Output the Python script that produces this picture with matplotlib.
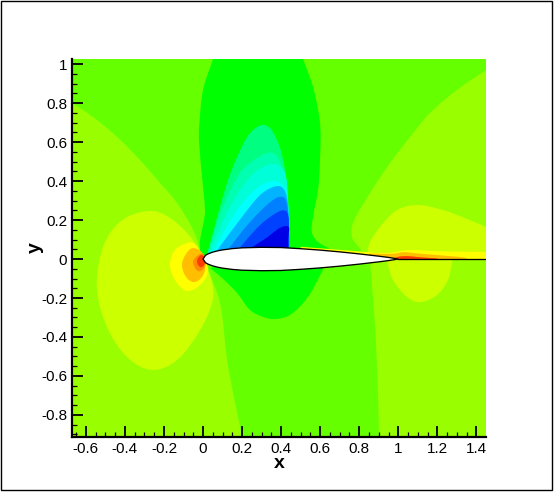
import matplotlib
matplotlib.use('Agg')
import matplotlib.pyplot as plt
import numpy as np
from matplotlib.patches import Rectangle, PathPatch
from matplotlib.path import Path
from matplotlib.ticker import MultipleLocator, FuncFormatter

plt.rcParams['font.family'] = ['Liberation Sans', 'DejaVu Sans']

X_MIN, X_MAX = -0.671, 1.449
Y_MIN, Y_MAX = -0.913, 1.026

# airfoil surface
foil_x = [0, 0.0125, 0.025, 0.05, 0.075, 0.1, 0.15, 0.2, 0.3, 0.4, 0.5, 0.6, 0.7, 0.8, 0.9, 0.95, 1]
foil_y = [0, 0.0189, 0.0261, 0.0355, 0.042, 0.0468, 0.0534, 0.0574, 0.06, 0.0588, 0.0529, 0.0456, 0.0366, 0.0262, 0.0145, 0.0081, 0]

# contour band outlines in x, y units
left_x = [-0.671, -0.563, -0.44, -0.323, -0.22, -0.133, -0.051, 0, 0.026, 0.087, 0.123, 0.154, 0.2, -0.671]
left_y = [0.80, 0.728, 0.626, 0.508, 0.39, 0.287, 0.149, 0.01, -0.056, -0.226, -0.518, -0.687, -0.913, -0.913]
upper_right_x = [1.449, 1.3, 1.162, 1.06, 0.957, 0.855, 0.768, 0.763, 0.789, 0.83, 1.0, 1.449]
upper_right_y = [0.969, 0.867, 0.749, 0.626, 0.492, 0.338, 0.185, 0.113, 0.072, 0.03, 0, 0]
lower_right_x = [0.855, 0.881, 0.896, 0.901, 1.449, 1.449, 0.855]
lower_right_y = [-0.015, -0.349, -0.687, -0.913, -0.913, 0, 0]

green_up_x = [0.051, 0, -0.02, -0.02, -0.005, 0.01, 0.01, 0.3, 0.66, 0.64, 0.589, 0.558, 0.563, 0.589, 0.599, 0.599, 0.563, 0.512]
green_up_y = [1.026, 0.867, 0.677, 0.595, 0.421, 0.251, 0, 0, 0.03, 0.056, 0.087, 0.133, 0.215, 0.354, 0.508, 0.697, 0.882, 1.026]
green_low_x = [0.036, 0.1, 0.174, 0.241, 0.307, 0.369, 0.445, 0.533, 0.614, 0.6, 0.1]
green_low_y = [-0.046, -0.1, -0.174, -0.262, -0.297, -0.308, -0.287, -0.2, -0.056, -0.03, -0.03]

band1_x = [0.02, 0.072, 0.123, 0.174, 0.241, 0.317, 0.379, 0.42, 0.435, 0.435]
band1_y = [0.02, 0.215, 0.39, 0.523, 0.646, 0.687, 0.61, 0.456, 0.267, 0.03]
band2_x = [0.02, 0.102, 0.189, 0.276, 0.358, 0.404, 0.43, 0.44]
band2_y = [0.02, 0.267, 0.441, 0.518, 0.544, 0.472, 0.354, 0.03]
band3_x = [0.026, 0.138, 0.241, 0.328, 0.384, 0.42, 0.435, 0.445]
band3_y = [0.025, 0.267, 0.421, 0.482, 0.482, 0.441, 0.318, 0.03]
band4_x = [0.046, 0.174, 0.276, 0.358, 0.404, 0.43, 0.44, 0.445]
band4_y = [0.03, 0.251, 0.364, 0.4, 0.38, 0.318, 0.2, 0.03]
band5_x = [0.061, 0.199, 0.292, 0.358, 0.404, 0.43, 0.44, 0.445]
band5_y = [0.03, 0.215, 0.328, 0.369, 0.369, 0.313, 0.185, 0.03]
band6_x = [0.113, 0.241, 0.358, 0.41, 0.43, 0.44, 0.44]
band6_y = [0.03, 0.19, 0.303, 0.318, 0.277, 0.174, 0.03]
band7_x = [0.164, 0.292, 0.394, 0.43, 0.44, 0.44]
band7_y = [0.03, 0.174, 0.246, 0.241, 0.149, 0.03]
band8_x = [0.205, 0.32, 0.43, 0.435, 0.435]
band8_y = [0.03, 0.105, 0.169, 0.1, 0.03]

bubble_x = [-0.527, -0.476, -0.389, -0.256, -0.154, -0.051, 0, 0.026, 0.051, 0.046, -0.015, -0.133, -0.261, -0.389, -0.492, -0.543]
bubble_y = [0.01, 0.133, 0.215, 0.246, 0.2, 0.097, 0.005, -0.056, -0.144, -0.226, -0.364, -0.518, -0.569, -0.503, -0.349, -0.159]
nose1_x = [0, -0.051, -0.118, -0.154, -0.169, -0.133, -0.077, -0.005, 0.026]
nose1_y = [0.01, 0.082, 0.067, 0.031, -0.041, -0.123, -0.164, -0.123, -0.056]
nose2_x = [-0.108, -0.087, -0.051, 0, 0.01, -0.015, -0.051, -0.087]
nose2_y = [-0.031, 0.026, 0.056, 0.026, -0.056, -0.103, -0.118, -0.092]
nose3_x = [-0.051, -0.031, 0, 0.015, 0.005, -0.026]
nose3_y = [-0.015, 0.015, 0.026, -0.005, -0.046, -0.062]
nose4_x = [-0.031, -0.01, 0.01, 0.005, -0.015]
nose4_y = [-0.01, 0.02, 0.005, -0.031, -0.041]

wake_up_x = [0.84, 0.855, 0.906, 0.993, 1.096, 1.229, 1.367, 1.449, 1.449, 1.0]
wake_up_y = [0.036, 0.087, 0.164, 0.251, 0.277, 0.251, 0.2, 0.164, 0, 0]
wake_low_x = [0.942, 0.973, 1.045, 1.111, 1.198, 1.254, 1.275, 1.275, 0.942]
wake_low_y = [-0.015, -0.108, -0.195, -0.221, -0.185, -0.108, -0.021, 0, 0]
wake1_x = [0.5, 0.7, 0.85, 0.95, 1.05, 1.2, 1.449, 1.449, 1.0, 0.5]
wake1_y = [0.063, 0.047, 0.035, 0.032, 0.046, 0.04, 0.036, 0, 0, 0]
wake2_x = [0.85, 0.97, 1.03, 1.1, 1.3, 1.35, 1.35, 0.85]
wake2_y = [0.028, 0.027, 0.035, 0.028, 0.012, 0.005, 0, 0]
wake3_x = [0.97, 1.0, 1.05, 1.1, 1.2, 1.2]
wake3_y = [0, 0.012, 0.015, 0.01, 0.003, 0]

BASE = '#66ff00'
LIGHT = '#99ff00'
LIME = '#ccff00'
YELLOW = '#ffff00'
ORANGE = '#ffbe00'
DARK_ORANGE = '#ff8c00'
RED = '#ff3c00'

# x, y, colour, how many leading points form the smooth edge (0 = closed blob)
regions = [
    (left_x, left_y, LIGHT, 13),
    (upper_right_x, upper_right_y, LIGHT, 11),
    (lower_right_x, lower_right_y, LIGHT, 4),
    (green_up_x, green_up_y, '#00ff00', 18),
    (green_low_x, green_low_y, '#00ff00', 9),
    (band1_x, band1_y, '#00ff80', 10),
    (band2_x, band2_y, '#00ffb0', 8),
    (band3_x, band3_y, '#00ffd8', 8),
    (band4_x, band4_y, '#00ffff', 8),
    (band5_x, band5_y, '#00b4ff', 8),
    (band6_x, band6_y, '#0080ff', 7),
    (band7_x, band7_y, '#0040ff', 6),
    (band8_x, band8_y, '#0000e6', 5),
    (bubble_x, bubble_y, LIME, 0),
    (nose1_x, nose1_y, YELLOW, 0),
    (nose2_x, nose2_y, ORANGE, 0),
    (nose3_x, nose3_y, DARK_ORANGE, 0),
    (nose4_x, nose4_y, RED, 0),
    (wake_up_x, wake_up_y, LIME, 8),
    (wake_low_x, wake_low_y, LIME, 7),
    (wake1_x, wake1_y, YELLOW, 7),
    (wake2_x, wake2_y, ORANGE, 6),
    (wake3_x, wake3_y, RED, 5),
]


def smooth_path(xs, ys, n_smooth):
    # bezier through the read points, straight closing edge after n_smooth points
    pts = np.column_stack([xs, ys]).astype(float)
    closed = n_smooth == 0
    if closed:
        n_smooth = len(pts)
        curve = np.vstack([pts[-1], pts, pts[0], pts[1]])
    else:
        first = pts[:n_smooth]
        curve = np.vstack([first[0], first, first[-1]])
    dirs = curve[2:] - curve[:-2]
    dirs = dirs / np.linalg.norm(dirs, axis=1, keepdims=True)
    on = curve[1:-1]
    verts = [on[0]]
    codes = [Path.MOVETO]
    for i in range(len(on) - 1):
        seg = np.linalg.norm(on[i + 1] - on[i]) / 3
        verts += [on[i] + dirs[i] * seg, on[i + 1] - dirs[i + 1] * seg, on[i + 1]]
        codes += [Path.CURVE4] * 3
    if not closed:
        for p in pts[n_smooth:]:
            verts.append(p)
            codes.append(Path.LINETO)
    verts.append(on[0])
    codes.append(Path.CLOSEPOLY)
    return Path(verts, codes)


W, H = 554, 493
fig = plt.figure(figsize=(W / 100, H / 100), dpi=100)
fig.add_artist(Rectangle((0.5 / W, 3.0 / H), 551 / W, 489.5 / H, transform=fig.transFigure,
                         fill=False, edgecolor='black', linewidth=1))
ax = fig.add_axes([72 / W, (H - 437) / H, (486 - 72) / W, (437 - 59) / H])
ax.set_facecolor(BASE)

for xs, ys, col, n in regions:
    ax.add_patch(PathPatch(smooth_path(xs, ys, n), facecolor=col, edgecolor='none', linewidth=0, zorder=1))

ax.fill(foil_x + foil_x[::-1], foil_y + [-v for v in foil_y[::-1]], facecolor='white',
        edgecolor='black', linewidth=0.95, zorder=3)
ax.plot([1, X_MAX], [0, 0], color='black', linewidth=0.95, zorder=3)

ax.set_xlim(X_MIN, X_MAX)
ax.set_ylim(Y_MIN, Y_MAX)

ax.spines['top'].set_visible(False)
ax.spines['right'].set_visible(False)
ax.spines['left'].set_linewidth(1.6)
ax.spines['bottom'].set_linewidth(1.6)

fmt = FuncFormatter(lambda v, p: '0' if abs(v) < 1e-9 else f'{v:g}')
for axis in (ax.xaxis, ax.yaxis):
    axis.set_major_locator(MultipleLocator(0.2))
    axis.set_minor_locator(MultipleLocator(0.05))
    axis.set_major_formatter(fmt)
ax.tick_params(which='major', direction='in', length=8, width=1.3, labelsize=11, pad=3.5, zorder=4)
ax.tick_params(which='minor', direction='in', length=3.6, width=0.9, zorder=4)

ax.set_xlabel('x', fontsize=14, fontweight='bold', labelpad=-0.5)
ax.set_ylabel('y', fontsize=14, fontweight='bold')
ax.yaxis.set_label_coords(-0.068, 0.50)

fig.savefig('out.png', dpi=100)
